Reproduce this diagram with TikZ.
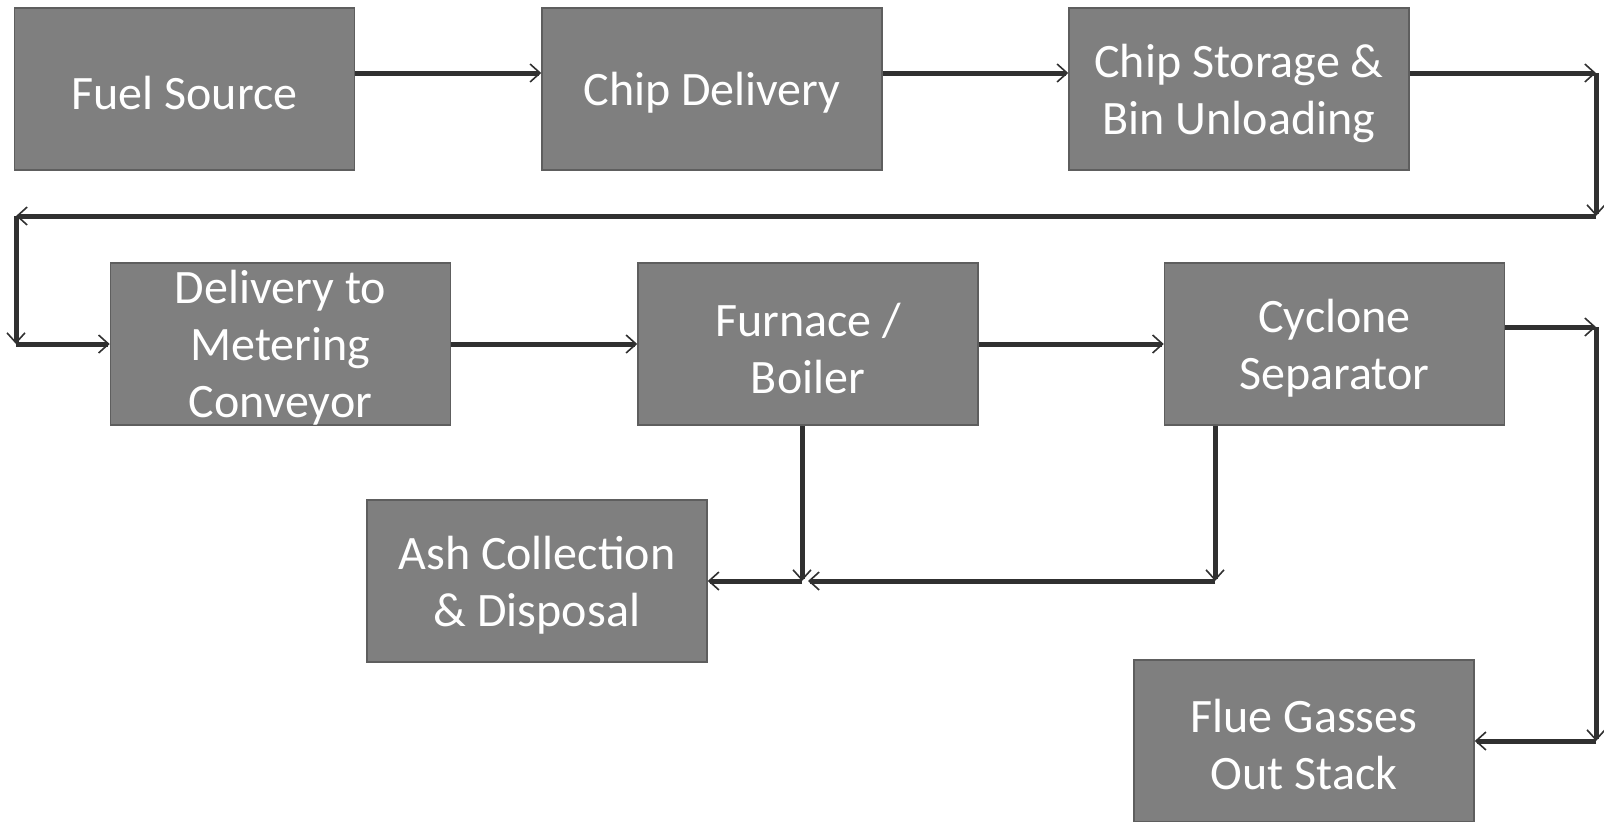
\documentclass[tikz,border=0pt]{standalone}
\usepackage{fontspec}
\setmainfont{Carlito}
\usetikzlibrary{arrows.meta}
\definecolor{boxfill}{HTML}{7F7F7F}
\definecolor{boxline}{HTML}{5E5E5E}
\definecolor{arrowc}{HTML}{303030}
\tikzset{
  stepbox/.style={rectangle, fill=boxfill, draw=boxline, line width=1.5pt,
    minimum width=340pt, minimum height=162pt, inner sep=0pt,
    label={[boxtext]center:#1}},
  boxtext/.style={text=white, align=center, inner sep=0pt, yshift=-4pt,
    font=\fontsize{48}{57}\selectfont},
  arr/.style={draw=arrowc, line width=5pt,
    -{Straight Barb[length=10pt,width=18pt,line width=1.6pt]}},
}
\begin{document}
\begin{tikzpicture}[x=1pt,y=-1pt]
\useasboundingbox (0,0) rectangle (1604,822);
\fill[white] (0,0) rectangle (1604,822);
\node[stepbox={Fuel Source}] (fuel) at (184.5,89) {};
\node[stepbox={Chip Delivery}] (chip) at (712,89) {};
\node[stepbox={Chip Storage \&\\Bin Unloading}] (storage) at (1239,89) {};
\node[stepbox={Delivery to\\Metering\\Conveyor}] (deliv) at (280.5,344) {};
\node[stepbox={Furnace /\\Boiler}] (furnace) at (808,344) {};
\node[stepbox={Cyclone\\Separator}] (cyclone) at (1334.5,344) {};
\node[stepbox={Ash Collection\\\& Disposal}] (ash) at (537,581) {};
\node[stepbox={Flue Gasses\\Out Stack}] (flue) at (1304,741) {};
\coordinate (c1) at (1596,73);
\coordinate (c2) at (1596,216);
\coordinate (c3) at (16,216);
\coordinate (c4) at (16,344);
\coordinate (c5) at (1596,327);
\coordinate (c6) at (1596,741);
\coordinate (c7) at (802,581);
\coordinate (c8) at (1215,581);
\coordinate (c9) at (808,581);
\draw[arr] ([yshift=16pt]fuel.east) -- ([yshift=16pt]chip.west);
\draw[arr] ([yshift=16pt]chip.east) -- ([yshift=16pt]storage.west);
\draw[arr] ([yshift=16pt]storage.east) -- (c1);
\draw[arr] (c1) -- (c2);
\draw[arr] (c2) -- (c3);
\draw[arr] (c3) -- (c4);
\draw[arr] (c4) -- (deliv.west);
\draw[arr] (deliv.east) -- (furnace.west);
\draw[arr] (furnace.east) -- (cyclone.west);
\draw[arr] ([yshift=17pt]cyclone.east) -- (c5);
\draw[arr] (c5) -- (c6);
\draw[arr] (c6) -- (flue.east);
\draw[arr] (c7 |- furnace.south) -- (c7);
\draw[arr] (c7) -- (ash.east);
\draw[arr] (c8 |- cyclone.south) -- (c8);
\draw[arr] (c8) -- (c9);
\end{tikzpicture}
\end{document}
